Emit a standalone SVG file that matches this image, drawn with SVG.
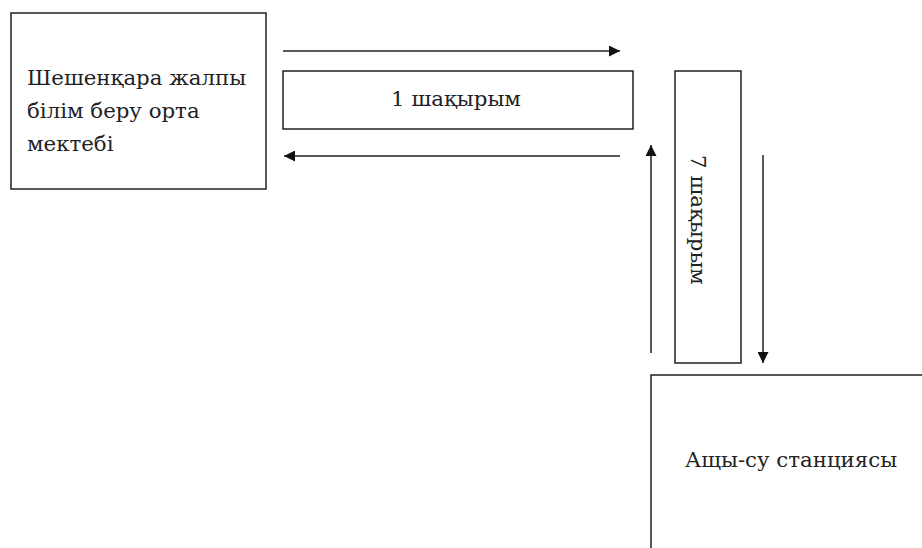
<svg xmlns="http://www.w3.org/2000/svg" width="922" height="548" viewBox="0 0 922 548">
<style>
.box{fill:#fff;stroke:#222;stroke-width:1.5}
.t{font-family:"DejaVu Serif","Liberation Serif",serif;font-size:21.3px;fill:#222}
.c{stroke:#222;stroke-width:1.5;fill:none}
</style>
<defs>
<marker id="ah" viewBox="0 0 10 10" refX="10" refY="5" markerWidth="14" markerHeight="11" markerUnits="userSpaceOnUse" orient="auto">
<path d="M0,0 L10,5 L0,10 z" fill="#111"/>
</marker>
</defs>
<rect width="922" height="548" fill="#fff"/>
<g id="school">
<rect class="box" x="11" y="13" width="255" height="176"/>
<text class="t" x="27" y="85">Шешенқара жалпы</text>
<text class="t" x="27" y="118">білім беру орта</text>
<text class="t" x="27" y="151">мектебі</text>
</g>
<g id="dist1">
<rect class="box" x="283" y="71" width="350" height="58"/>
<text class="t" x="456" y="106" text-anchor="middle">1 шақырым</text>
</g>
<g id="dist7">
<rect class="box" x="675" y="71" width="66" height="292"/>
<text class="t" transform="translate(691,220) rotate(90)" text-anchor="middle">7 шақырым</text>
</g>
<g id="station">
<rect class="box" x="651" y="375" width="290" height="200"/>
<text class="t" x="685" y="467">Ащы-су станциясы</text>
</g>
<g id="connectors">
<line class="c" x1="283" y1="51" x2="620" y2="51" marker-end="url(#ah)"/>
<line class="c" x1="620" y1="156" x2="284" y2="156" marker-end="url(#ah)"/>
<line class="c" x1="651" y1="353" x2="651" y2="145" marker-end="url(#ah)"/>
<line class="c" x1="763" y1="155" x2="763" y2="363" marker-end="url(#ah)"/>
</g>
</svg>
